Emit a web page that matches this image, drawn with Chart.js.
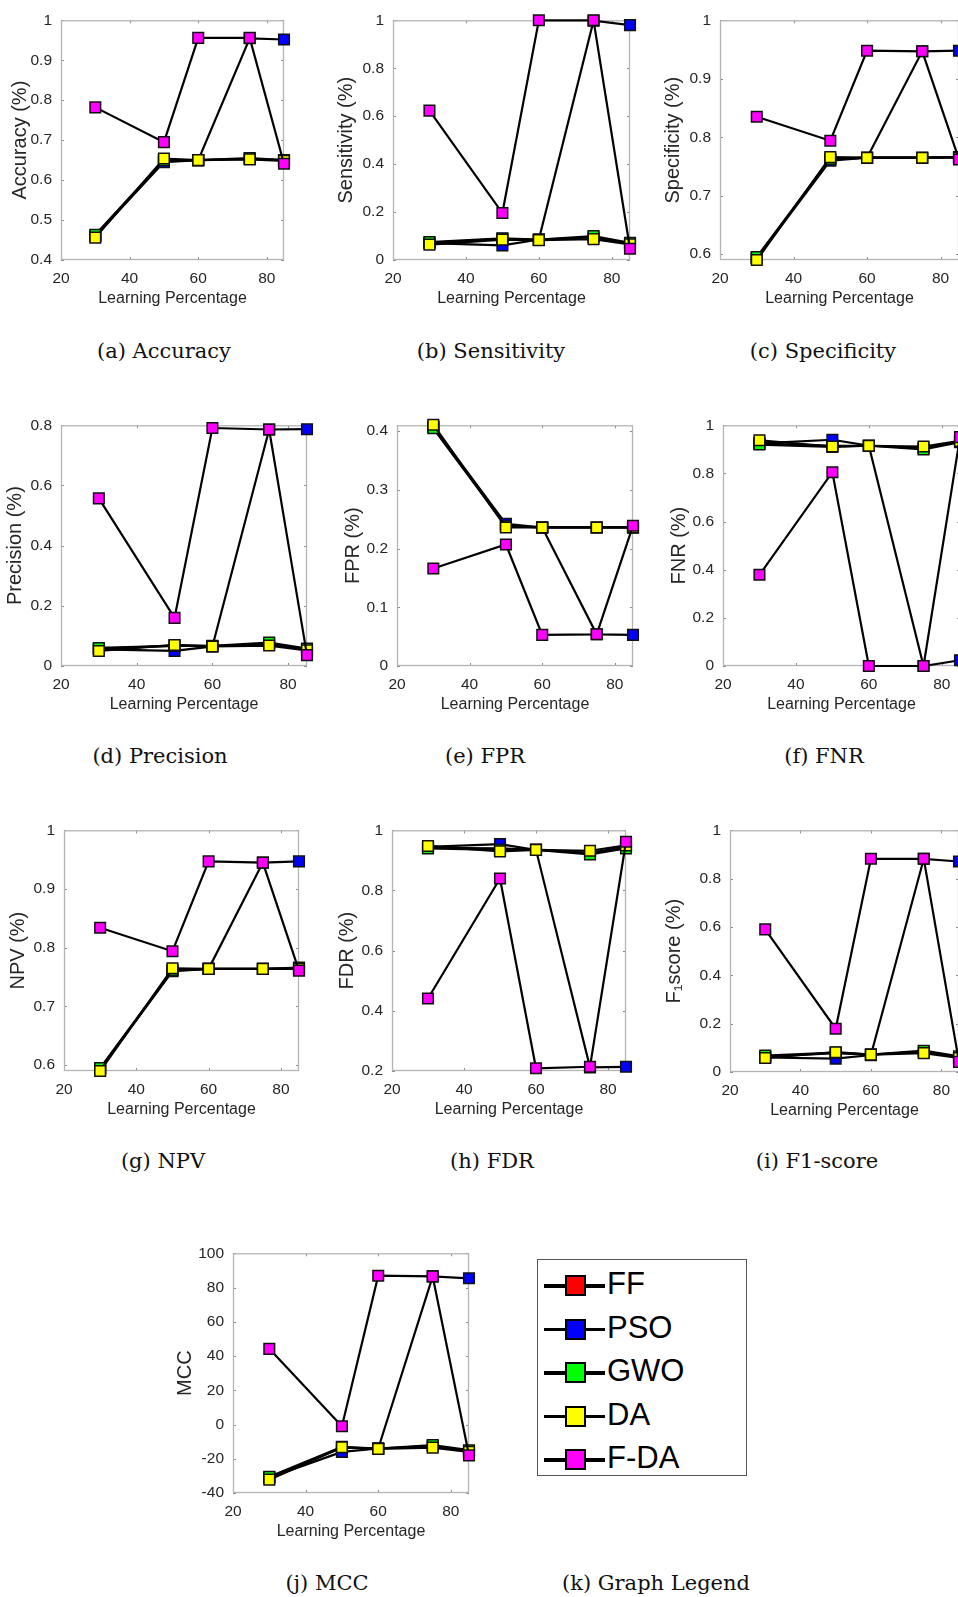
<!DOCTYPE html>
<html>
<head>
<meta charset="utf-8">
<script src="https://cdn.jsdelivr.net/npm/chart.js@4.4.0/dist/chart.umd.min.js"></script>
<style>
  html, body { margin: 0; padding: 0; background: #fff; overflow: hidden; }
  body { width: 958px; height: 1597px; position: relative; }
  canvas { position: absolute; }
  .cap { position: absolute; font-family: "DejaVu Serif", serif; font-size: 21px; color: #111;
         transform: translate(-50%, -50%); white-space: nowrap; }
  #legend { position: absolute; left: 537px; top: 1259px; width: 210px; height: 217px;
            border: 1.5px solid #555; box-sizing: border-box; }
  .row { position: absolute; left: 0; height: 30px; width: 100%; }
  .row .ln { position: absolute; left: 6px; top: 13px; width: 61px; height: 3.5px; background: #000; }
  .row .mk { position: absolute; left: 27px; top: 4px; width: 17px; height: 17px; border: 2.5px solid #000; }
  .row .tx { position: absolute; left: 69px; top: -5px; font-family: "Liberation Sans", Arial, sans-serif;
             font-size: 31px; color: #000; }
</style>
</head>
<body>
<div id="legend"></div>
<script>
// x positions (learning percentage)
const learningPct = [30, 50, 60, 75, 85];
const xTicks = [20, 40, 60, 80];
const seriesNames = ['FF', 'PSO', 'GWO', 'DA', 'F-DA'];
const seriesColors = ['#ff0000', '#0000ff', '#00ff00', '#ffff00', '#ff00ff'];

// rows: FF, PSO, GWO, DA, F-DA
const accuracy = [
    [0.460, 0.648, 0.650, 0.653, 0.650],
    [0.460, 0.645, 0.650, 0.955, 0.952],
    [0.463, 0.650, 0.650, 0.655, 0.650],
    [0.456, 0.654, 0.650, 0.652, 0.648],
    [0.782, 0.695, 0.956, 0.956, 0.641]
];
const sensitivity = [
    [0.072, 0.088, 0.084, 0.095, 0.068],
    [0.070, 0.061, 0.085, 0.998, 0.980],
    [0.075, 0.090, 0.085, 0.100, 0.072],
    [0.064, 0.085, 0.083, 0.087, 0.065],
    [0.623, 0.196, 1.000, 1.000, 0.047]
];
const specificity = [
    [0.594, 0.762, 0.765, 0.765, 0.766],
    [0.593, 0.760, 0.765, 0.947, 0.948],
    [0.595, 0.763, 0.765, 0.765, 0.766],
    [0.590, 0.766, 0.765, 0.765, 0.765],
    [0.835, 0.794, 0.948, 0.947, 0.762]
];
const precision = [
    [0.057, 0.068, 0.066, 0.074, 0.055],
    [0.055, 0.050, 0.065, 0.786, 0.787],
    [0.060, 0.067, 0.067, 0.078, 0.058],
    [0.050, 0.070, 0.065, 0.068, 0.052],
    [0.557, 0.160, 0.791, 0.786, 0.036]
];
const fpr = [
    [0.407, 0.239, 0.236, 0.236, 0.236],
    [0.408, 0.242, 0.236, 0.054, 0.053],
    [0.405, 0.238, 0.236, 0.236, 0.236],
    [0.411, 0.236, 0.236, 0.236, 0.236],
    [0.166, 0.207, 0.053, 0.054, 0.239]
];
const fnr = [
    [0.925, 0.915, 0.915, 0.905, 0.932],
    [0.925, 0.940, 0.915, 0.000, 0.024],
    [0.920, 0.910, 0.915, 0.900, 0.930],
    [0.938, 0.912, 0.915, 0.912, 0.935],
    [0.379, 0.805, 0.000, 0.000, 0.951]
];
const npv = [
    [0.594, 0.761, 0.764, 0.764, 0.766],
    [0.593, 0.760, 0.764, 0.945, 0.947],
    [0.595, 0.762, 0.764, 0.764, 0.765],
    [0.590, 0.765, 0.764, 0.764, 0.764],
    [0.834, 0.794, 0.947, 0.945, 0.761]
];
const fdr = [
    [0.942, 0.940, 0.935, 0.925, 0.945],
    [0.945, 0.954, 0.935, 0.212, 0.214],
    [0.940, 0.935, 0.935, 0.920, 0.940],
    [0.948, 0.930, 0.935, 0.932, 0.950],
    [0.441, 0.840, 0.209, 0.214, 0.962]
];
const f1score = [
    [0.064, 0.078, 0.072, 0.084, 0.060],
    [0.060, 0.055, 0.070, 0.882, 0.871],
    [0.068, 0.080, 0.072, 0.088, 0.065],
    [0.058, 0.082, 0.072, 0.078, 0.058],
    [0.590, 0.179, 0.882, 0.882, 0.042]
];
const mcc = [
    [-31.0, -13.5, -14.0, -12.5, -15.5],
    [-31.0, -16.0, -14.0, 86.5, 85.4],
    [-30.5, -13.0, -14.0, -12.0, -15.0],
    [-32.2, -13.3, -14.2, -13.5, -16.0],
    [44.2, -1.0, 86.9, 86.5, -18.0]
];

const yTicksUnit = [0, 0.2, 0.4, 0.6, 0.8, 1];
const yTicksAcc = [0.4, 0.5, 0.6, 0.7, 0.8, 0.9, 1];
const yTicksSpec = [0.6, 0.7, 0.8, 0.9, 1];
const yTicksPrec = [0, 0.2, 0.4, 0.6, 0.8];
const yTicksFpr = [0, 0.1, 0.2, 0.3, 0.4];
const yTicksFdr = [0.2, 0.4, 0.6, 0.8, 1];
const yTicksMcc = [-40, -20, 0, 20, 40, 60, 80, 100];

// panel layout: plot box [left, top, right, bottom] in page px, title gap from plot left
const panels = [
    { values: accuracy, yTitle: 'Accuracy (%)', min: 0.4, max: 1, ticks: yTicksAcc, box: [61, 14, 284, 260], gap: 41, cap: '(a)  Accuracy', capPos: [164, 351] },
    { values: sensitivity, yTitle: 'Sensitivity (%)', min: 0, max: 1, ticks: yTicksUnit, box: [393, 14, 630, 260], gap: 47, cap: '(b)  Sensitivity', capPos: [491, 351] },
    { values: specificity, yTitle: 'Specificity (%)', min: 0.59, max: 1, ticks: yTicksSpec, box: [720, 14, 959, 260], gap: 47, cap: '(c)  Specificity', capPos: [823, 351] },
    { values: precision, yTitle: 'Precision (%)', min: 0, max: 0.8, ticks: yTicksPrec, box: [61, 419, 307, 666], gap: 46, cap: '(d)  Precision', capPos: [160, 756] },
    { values: fpr, yTitle: 'FPR (%)', min: 0, max: 0.41, ticks: yTicksFpr, box: [397, 419, 633, 666], gap: 44, cap: '(e)  FPR', capPos: [485, 756] },
    { values: fnr, yTitle: 'FNR (%)', min: 0, max: 1, ticks: yTicksUnit, box: [723, 419, 960, 666], gap: 44, cap: '(f)  FNR', capPos: [824, 756] },
    { values: npv, yTitle: 'NPV (%)', min: 0.59, max: 1, ticks: yTicksSpec, box: [64, 824, 299, 1071], gap: 46, cap: '(g)  NPV', capPos: [163, 1161] },
    { values: fdr, yTitle: 'FDR (%)', min: 0.2, max: 1, ticks: yTicksFdr, box: [392, 824, 626, 1071], gap: 45, cap: '(h)  FDR', capPos: [492, 1161] },
    { values: f1score, yTitle: 'F\u2081score (%)', min: 0, max: 1, ticks: yTicksUnit, box: [730, 824, 959, 1072], gap: 56, cap: '(i)  F1-score', capPos: [817, 1161] },
    { values: mcc, yTitle: 'MCC', min: -40, max: 100, ticks: yTicksMcc, box: [233, 1247, 469, 1493], gap: 48, cap: '(j)  MCC', capPos: [327, 1583] }
];

const YW = 70, PT = 12, PR = 10, XH = 50;
const axisFont = 'Liberation Sans';
const ink = '#262626';
const yTitleSize = 20;

const framePlugin = {
    id: 'frame',
    beforeDatasetsDraw(chart) {
        const { ctx, chartArea: a, scales: { x, y } } = chart;
        const tl = 3;
        ctx.save();
        ctx.strokeStyle = '#8a8a8a';
        ctx.lineWidth = 1;
        ctx.beginPath();
        x.ticks.forEach(t => {
            const px = Math.round(x.getPixelForValue(t.value)) + 0.5;
            ctx.moveTo(px, a.bottom); ctx.lineTo(px, a.bottom - tl);
            ctx.moveTo(px, a.top); ctx.lineTo(px, a.top + tl);
        });
        y.ticks.forEach(t => {
            const py = Math.round(y.getPixelForValue(t.value)) + 0.5;
            ctx.moveTo(a.left, py); ctx.lineTo(a.left + tl, py);
            ctx.moveTo(a.right, py); ctx.lineTo(a.right - tl, py);
        });
        ctx.stroke();
        ctx.strokeStyle = '#b4b4b4';
        ctx.lineWidth = 1.3;
        ctx.strokeRect(a.left + 0.5, a.top + 0.5, a.right - a.left - 1, a.bottom - a.top - 1);
        ctx.restore();
    }
};

function makePanel(p) {
    const [l, t, r, b] = p.box;
    const W = (r - l) + YW + PR;
    const H = (b - t) + PT + XH;
    const cv = document.createElement('canvas');
    cv.width = W; cv.height = H;
    cv.style.left = (l - YW) + 'px';
    cv.style.top = (t - PT) + 'px';
    cv.style.width = W + 'px';
    cv.style.height = H + 'px';
    document.body.appendChild(cv);

    const datasets = seriesNames.map((name, i) => ({
        label: name,
        data: learningPct.map((x, j) => ({ x: x, y: p.values[i][j] })),
        borderColor: '#000',
        borderWidth: 2.2,
        pointStyle: 'rect',
        pointRadius: 7.5,
        pointBackgroundColor: seriesColors[i],
        pointBorderColor: '#111',
        pointBorderWidth: 1.5,
        tension: 0,
        clip: false,
        order: seriesNames.length - i
    }));

    new Chart(cv, {
        type: 'line',
        data: { datasets: datasets },
        options: {
            responsive: false,
            animation: false,
            devicePixelRatio: 1,
            layout: { padding: { left: 0, top: PT, right: PR, bottom: 0 } },
            plugins: { legend: { display: false }, tooltip: { enabled: false } },
            scales: {
                x: {
                    type: 'linear', min: 20, max: 85,
                    afterBuildTicks: s => { s.ticks = xTicks.map(v => ({ value: v })); },
                    afterFit: s => { s.height = XH; },
                    grid: { display: false, drawTicks: false },
                    border: { display: false },
                    ticks: { font: { family: axisFont, size: 15.5 }, color: ink, padding: 9, maxRotation: 0, autoSkip: false },
                    title: { display: true, text: 'Learning Percentage', color: ink,
                             font: { family: axisFont, size: 16 }, padding: { top: 0, bottom: 2 } }
                },
                y: {
                    type: 'linear', min: p.min, max: p.max,
                    afterBuildTicks: s => { s.ticks = p.ticks.map(v => ({ value: v })); },
                    afterFit: s => { s.width = YW; },
                    grid: { display: false, drawTicks: false },
                    border: { display: false },
                    ticks: { font: { family: axisFont, size: 15.5 }, color: ink, padding: 9, autoSkip: false,
                             callback: v => String(+v.toFixed(2)) },
                    title: { display: true, text: p.yTitle, color: ink,
                             font: { family: axisFont, size: yTitleSize },
                             padding: { top: YW - p.gap - yTitleSize * 0.6, bottom: 0 } }
                }
            }
        },
        plugins: [framePlugin]
    });

    const cap = document.createElement('div');
    cap.className = 'cap';
    cap.textContent = p.cap;
    cap.style.left = p.capPos[0] + 'px';
    cap.style.top = p.capPos[1] + 'px';
    document.body.appendChild(cap);
}

panels.forEach(makePanel);

// legend box (k)
const legend = document.getElementById('legend');
seriesNames.forEach((name, i) => {
    const row = document.createElement('div');
    row.className = 'row';
    row.style.top = (11 + i * 43.5) + 'px';
    row.innerHTML = '<div class="ln"></div><div class="mk" style="background:' + seriesColors[i] +
        '"></div><div class="tx">' + name + '</div>';
    legend.appendChild(row);
});
const capK = document.createElement('div');
capK.className = 'cap';
capK.textContent = '(k)  Graph Legend';
capK.style.left = '656px';
capK.style.top = '1583px';
document.body.appendChild(capK);
</script>
</body>
</html>
